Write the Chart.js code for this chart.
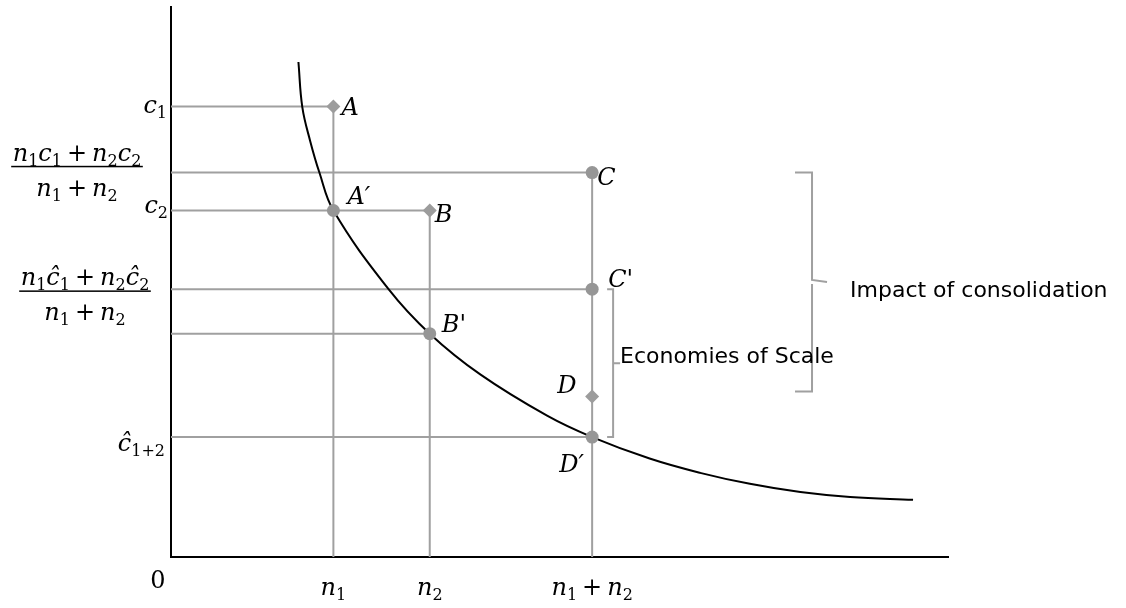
<!DOCTYPE html>
<html>
<head>
<meta charset="utf-8">
<script src="https://cdn.jsdelivr.net/npm/chart.js@4/dist/chart.umd.min.js"></script>
<style>
  html, body { margin: 0; padding: 0; background: #fff; }
  #wrap { width: 1126px; height: 608px; }
</style>
</head>
<body>
<div id="wrap"><canvas id="cost"></canvas></div>
<script>
// output sizes on the x axis: n1, n2, n1+n2
const sizeLabels = ['n_1', 'n_2', 'n_1+n_2'];
const sizeValues = [20.9, 33.3, 54.2];

// named points (x = size, y = unit cost)
const pointNames = ['A', 'B', 'C', 'A′', "B'", "C'", 'D', 'D′'];
const pointX = [20.9, 33.3, 54.2, 20.9, 33.3, 54.2, 54.2, 54.2];
const pointY = [81.9, 63.0, 69.9, 63.0, 40.6, 48.7, 29.2, 21.8];
const pointShape = ['rectRot', 'rectRot', 'circle', 'circle', 'circle', 'circle', 'rectRot', 'circle'];

// average cost curve
const curveX = [16.4, 16.9, 17.9, 19.1, 20.9, 28.0, 33.3, 39.8, 48.4, 54.2, 61.6, 68.1, 74.5, 81.0, 87.4, 95.5];
const curveY = [90.0, 81.8, 75.7, 69.9, 63.0, 48.7, 40.6, 33.2, 25.7, 21.8, 17.9, 15.3, 13.3, 11.8, 10.9, 10.4];

// guide lines: point index, and whether it drops down to the x axis too
const guidePoints = [0, 1, 2, 5, 4, 7];
const guideDrops = [true, true, true, false, false, false];

const GRAY = '#a0a0a0';
const ITALIC = 'italic 24px "DejaVu Serif"';
const ROMAN = '24px "DejaVu Serif"';
const SUB = '16px "DejaVu Serif"';
const SANS = '22px "DejaVu Sans"';

const datasets = [];
datasets.push({
  data: pointX.map((x, i) => ({ x, y: pointY[i] })),
  showLine: false,
  pointStyle: pointShape,
  pointRadius: pointShape.map(s => s === 'circle' ? 6.5 : 7),
  backgroundColor: pointShape.map(s => s === 'circle' ? '#969696' : '#9c9c9c'),
  borderWidth: 0,
  order: 0
});
datasets.push({
  data: curveX.map((x, i) => ({ x, y: curveY[i] })),
  showLine: true,
  borderColor: '#000',
  borderWidth: 2,
  pointRadius: 0,
  tension: 0.4,
  order: 1
});
guidePoints.forEach((p, k) => {
  const pts = [{ x: 0, y: pointY[p] }, { x: pointX[p], y: pointY[p] }];
  if (guideDrops[k]) pts.push({ x: pointX[p], y: 0 });
  datasets.push({
    data: pts,
    showLine: true,
    borderColor: GRAY,
    borderWidth: 2,
    pointRadius: 0,
    order: 2
  });
});

function mathRuns(str) {
  const runs = [];
  for (let i = 0; i < str.length; i++) {
    const ch = str[i];
    if (ch === '_') {
      let sub;
      if (str[i + 1] === '{') { const j = str.indexOf('}', i); sub = str.slice(i + 2, j); i = j; }
      else { sub = str[i + 1]; i++; }
      runs.push({ t: sub, f: SUB, dy: 5 });
    } else if (ch === '+') {
      runs.push({ t: '+', f: ROMAN, dy: 0, pad: 5 });
    } else if (ch === ' ') {
      continue;
    } else if (/[0-9']/.test(ch)) {
      runs.push({ t: ch, f: ROMAN, dy: 0 });
    } else {
      runs.push({ t: ch, f: ITALIC, dy: 0 });
    }
  }
  return runs;
}

function mathWidth(ctx, str) {
  let w = 0;
  mathRuns(str).forEach(r => { ctx.font = r.f; w += ctx.measureText(r.t).width + 2 * (r.pad || 0); });
  return w;
}

function drawMath(ctx, str, x, y, align) {
  const runs = mathRuns(str);
  const w = mathWidth(ctx, str);
  let cx = align === 'right' ? x - w : align === 'center' ? x - w / 2 : x;
  ctx.textAlign = 'left';
  ctx.textBaseline = 'alphabetic';
  runs.forEach(r => {
    ctx.font = r.f;
    ctx.fillText(r.t, cx + (r.pad || 0), y + r.dy);
    cx += ctx.measureText(r.t).width + 2 * (r.pad || 0);
  });
}

function drawFrac(ctx, num, den, cx, barY) {
  const bw = Math.max(mathWidth(ctx, num), mathWidth(ctx, den)) + 3;
  drawMath(ctx, num, cx, barY - 6, 'center');
  drawMath(ctx, den, cx, barY + 29, 'center');
  ctx.fillRect(cx - bw / 2, barY - 0.75, bw, 1.5);
}

// label offsets from each point, in pixels (left edge, baseline)
const labelDx = [8, 5, 5, 14, 12, 16, -35, -33];
const labelDy = [8, 11, 12, -7, -2, -2, -3, 35];

const labels = {
  id: 'labels',
  afterDatasetsDraw(chart) {
    const { ctx, scales: { x, y } } = chart;
    const left = x.getPixelForValue(0);
    const bottom = y.getPixelForValue(0);
    ctx.save();
    ctx.fillStyle = '#000';

    // y axis labels
    drawMath(ctx, 'c_1', left - 4, y.getPixelForValue(pointY[0]) + 6, 'right');
    drawFrac(ctx, 'n_1c_1+n_2c_2', 'n_1+n_2', 77, y.getPixelForValue(pointY[2]) - 6);
    drawMath(ctx, 'c_2', left - 3, y.getPixelForValue(pointY[1]) + 2, 'right');
    drawFrac(ctx, 'n_1ĉ_1+n_2ĉ_2', 'n_1+n_2', 85, y.getPixelForValue(pointY[5]) + 2);
    drawMath(ctx, 'ĉ_{1+2}', left - 6, y.getPixelForValue(pointY[7]) + 14, 'right');

    // x axis labels
    drawMath(ctx, '0', left - 13, bottom + 31, 'center');
    sizeValues.forEach((v, i) => drawMath(ctx, sizeLabels[i], x.getPixelForValue(v), bottom + 38, 'center'));

    // point names
    pointNames.forEach((n, i) => {
      drawMath(ctx, n, x.getPixelForValue(pointX[i]) + labelDx[i], y.getPixelForValue(pointY[i]) + labelDy[i], 'left');
    });

    // brackets
    ctx.strokeStyle = GRAY;
    ctx.lineWidth = 2;
    const bx = x.getPixelForValue(82.5);
    const bt = y.getPixelForValue(pointY[2]);
    const bb = y.getPixelForValue(pointY[6]) - 5;
    const bm = (bt + bb) / 2;
    ctx.beginPath();
    ctx.moveTo(bx - 17, bt); ctx.lineTo(bx, bt); ctx.lineTo(bx, bm - 2);
    ctx.lineTo(bx + 15, bm); ctx.moveTo(bx, bm + 2); ctx.lineTo(bx, bb); ctx.lineTo(bx - 17, bb);
    ctx.stroke();

    const ex = x.getPixelForValue(56.9);
    const et = y.getPixelForValue(pointY[5]);
    const eb = y.getPixelForValue(pointY[7]);
    const em = (et + eb) / 2;
    ctx.beginPath();
    ctx.moveTo(ex - 6, et); ctx.lineTo(ex, et); ctx.lineTo(ex, eb); ctx.lineTo(ex - 6, eb);
    ctx.moveTo(ex, em); ctx.lineTo(ex + 7, em);
    ctx.stroke();

    ctx.fillStyle = '#000';
    ctx.font = SANS;
    ctx.textAlign = 'left';
    ctx.fillText('Economies of Scale', ex + 7, em);
    ctx.fillText('Impact of consolidation', bx + 38, bm + 15);
    ctx.restore();
  }
};

new Chart(document.getElementById('cost'), {
  type: 'scatter',
  data: { datasets },
  options: {
    responsive: true,
    maintainAspectRatio: false,
    animation: false,
    layout: { padding: { left: 163, right: 178, top: 6, bottom: 43 } },
    plugins: { legend: { display: false }, tooltip: { enabled: false } },
    scales: {
      x: {
        min: 0, max: 100,
        grid: { display: false },
        ticks: { display: false },
        border: { display: true, color: '#000', width: 2 }
      },
      y: {
        min: 0, max: 100,
        grid: { display: false },
        ticks: { display: false },
        border: { display: true, color: '#000', width: 2 }
      }
    }
  },
  plugins: [labels]
});
</script>
</body>
</html>
